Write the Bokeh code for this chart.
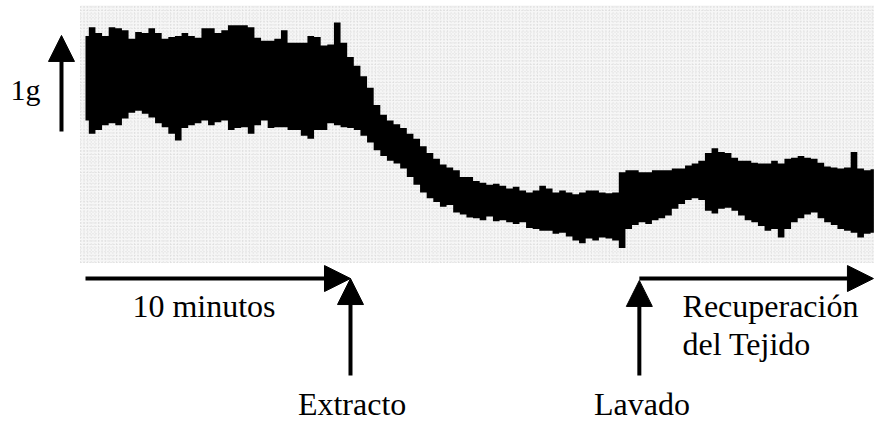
import numpy as np
from bokeh.plotting import figure
from bokeh.models import Range1d, Arrow, NormalHead, ColumnDataSource
from bokeh.core.properties import value
from bokeh.embed import file_html
from bokeh.resources import INLINE

# ---- data read from the recording (tension in g, sampled every 0.25 min) ----
sample_interval_min = 0.25
upper_g = [
    2.36, 2.45, 2.39, 2.36, 2.45, 2.44, 2.42, 2.33, 2.40, 2.39,
    2.44, 2.39, 2.33, 2.35, 2.36, 2.39, 2.36, 2.34, 2.44, 2.44,
    2.39, 2.42, 2.47, 2.47, 2.47, 2.45, 2.34, 2.31, 2.31, 2.33,
    2.42, 2.29, 2.29, 2.29, 2.36, 2.35, 2.26, 2.27, 2.50, 2.29,
    2.14, 2.05, 1.94, 1.82, 1.64, 1.54, 1.48, 1.44, 1.40, 1.34,
    1.29, 1.21, 1.14, 1.08, 1.02, 0.99, 0.96, 0.89, 0.89, 0.85,
    0.83, 0.81, 0.82, 0.80, 0.77, 0.79, 0.75, 0.73, 0.75, 0.80,
    0.77, 0.73, 0.75, 0.73, 0.71, 0.73, 0.75, 0.75, 0.73, 0.72,
    0.73, 0.94, 0.96, 0.96, 0.94, 0.94, 0.96, 0.96, 0.96, 0.98,
    0.98, 1.01, 1.03, 1.06, 1.14, 1.19, 1.15, 1.14, 1.09, 1.06,
    1.06, 1.04, 1.03, 1.03, 1.06, 1.03, 1.08, 1.09, 1.11, 1.09,
    1.08, 1.04, 1.00, 0.99, 0.98, 0.99, 1.15, 0.98, 0.96, 0.97,
]
lower_g = [
    1.48, 1.34, 1.38, 1.43, 1.45, 1.43, 1.50, 1.56, 1.58, 1.55,
    1.51, 1.45, 1.41, 1.34, 1.27, 1.40, 1.43, 1.45, 1.48, 1.43,
    1.46, 1.48, 1.38, 1.40, 1.41, 1.34, 1.43, 1.48, 1.40, 1.41,
    1.41, 1.38, 1.38, 1.32, 1.29, 1.38, 1.38, 1.45, 1.43, 1.41,
    1.40, 1.38, 1.32, 1.25, 1.17, 1.11, 1.06, 1.03, 0.98, 0.89,
    0.81, 0.73, 0.67, 0.63, 0.58, 0.60, 0.52, 0.50, 0.47, 0.46,
    0.44, 0.48, 0.43, 0.44, 0.42, 0.40, 0.42, 0.36, 0.35, 0.33,
    0.33, 0.30, 0.31, 0.27, 0.23, 0.20, 0.25, 0.23, 0.26, 0.25,
    0.23, 0.15, 0.35, 0.39, 0.42, 0.40, 0.44, 0.46, 0.49, 0.56,
    0.61, 0.65, 0.67, 0.65, 0.54, 0.51, 0.56, 0.57, 0.54, 0.49,
    0.44, 0.42, 0.38, 0.33, 0.35, 0.26, 0.35, 0.42, 0.46, 0.50,
    0.52, 0.46, 0.42, 0.39, 0.35, 0.33, 0.31, 0.26, 0.30, 0.31,
]
baseline_period_min = 10.0
extract_time_min = 10.0
wash_time_min = 20.9
scale_bar_g = 1.0

label_scale = "1g"
label_period = "10 minutos"
label_extract = "Extracto"
label_wash = "Lavado"
label_recovery = ["Recuperación", "del Tejido"]

time_min = np.arange(len(upper_g)) * sample_interval_min

# ---- figure (26.5 px per minute, 96 px per gram) ----
X0, X1 = -3.2075, 29.774
Y0, Y1 = -1.677, 2.729
p = figure(width=874, height=423, x_range=Range1d(X0, X1), y_range=Range1d(Y0, Y1),
           output_backend="svg", toolbar_location=None,
           x_axis_location=None, y_axis_location=None,
           min_border=0, min_border_left=0, min_border_right=0,
           min_border_top=0, min_border_bottom=0)
p.grid.visible = False
p.outline_line_color = None
p.background_fill_color = "white"
p.border_fill_color = "white"

# chart paper
paper_left, paper_right, paper_bottom, paper_top = -0.189, X1 + 1, 0.0, 2.677
p.quad(left=paper_left, right=paper_right, bottom=paper_bottom, top=paper_top,
       fill_color="#f6f6f6", line_color=None)
gx = np.arange(paper_left, paper_right, 0.1358)
gy = np.arange(paper_bottom, paper_top, 0.0375)
p.multi_line(xs=[[x, x] for x in gx], ys=[[paper_bottom, paper_top]] * len(gx),
             line_color="#d0d0d0", line_width=1, line_dash="1 2", line_alpha=0.8)
p.multi_line(xs=[[paper_left, paper_right]] * len(gy), ys=[[y, y] for y in gy],
             line_color="#d0d0d0", line_width=1, line_dash="1 2", line_alpha=0.8)

# recording trace
p.varea_step(x=time_min, y1=lower_g, y2=upper_g, step_mode="center",
             fill_color="black")

# arrows
def arrow(xs, ys, xe, ye):
    p.add_layout(Arrow(end=NormalHead(size=26, fill_color="black", line_color="black", line_width=1),
                       x_start=xs, y_start=ys, x_end=xe, y_end=ye,
                       line_width=4, line_color="black"))

scale_x = -0.906
scale_base = 1.365
arrow(scale_x, scale_base, scale_x, scale_base + scale_bar_g)

timeline_y = -0.167
event_bottom = -1.177
arrow(0.0, timeline_y, baseline_period_min, timeline_y)
arrow(extract_time_min, event_bottom, extract_time_min, timeline_y)
arrow(wash_time_min, event_bottom, wash_time_min, timeline_y - 0.02)
arrow(wash_time_min, timeline_y, X1 - 0.04, timeline_y)

# labels
font = value("Liberation Serif")
dy = 0.125
left_labels = ColumnDataSource(dict(
    x=[1.77, 22.53, 22.53],
    y=[-0.583 + dy, -0.583 + dy, -0.969 + dy],
    text=[label_period, label_recovery[0], label_recovery[1]]))
p.text(x="x", y="y", text="text", source=left_labels, text_font=font,
       text_font_size=value("32px"), text_align="left", text_baseline="alphabetic",
       text_color="black")
center_labels = ColumnDataSource(dict(
    x=[extract_time_min + 0.06, wash_time_min + 0.1],
    y=[-1.594 + dy, -1.594 + dy],
    text=[label_extract, label_wash]))
p.text(x="x", y="y", text="text", source=center_labels, text_font=font,
       text_font_size=value("32px"), text_align="center", text_baseline="alphabetic",
       text_color="black")
p.text(x=[-2.83], y=[1.677 + dy], text=[label_scale], text_font=font,
       text_font_size=value("30px"), text_align="left", text_baseline="alphabetic",
       text_color="black")

open("out.html", "w").write(file_html(p, INLINE))
